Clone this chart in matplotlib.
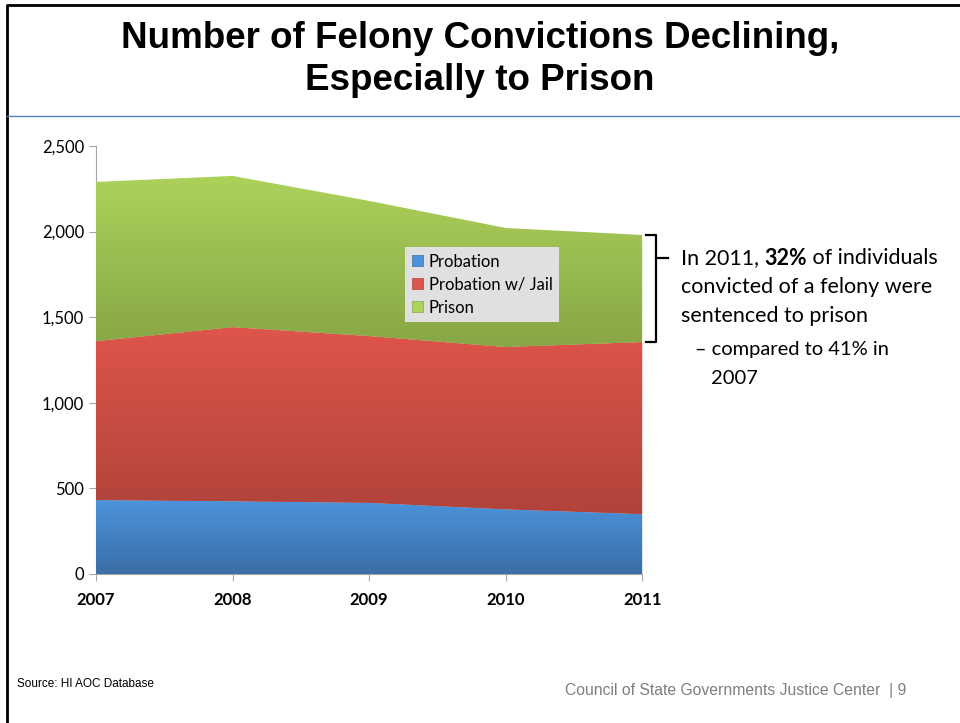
import matplotlib.pyplot as plt
import numpy as np
from matplotlib.colors import LinearSegmentedColormap
from matplotlib.patches import Patch
from matplotlib.lines import Line2D
import matplotlib.transforms as mtransforms

years = [2007, 2008, 2009, 2010, 2011]
probation = [432, 425, 416, 378, 350]
probation_jail = [928, 1017, 974, 948, 1005]
prison = [930, 883, 789, 695, 625]

series_names = ["Probation", "Probation w/ Jail", "Prison"]
# (top colour, bottom colour) for the vertical gradient of each band
band_colors = [("#4c93db", "#3a6ea6"), ("#de554b", "#b0433a"), ("#add25b", "#88a646")]

body_font = ["Lato", "DejaVu Sans"]

fig = plt.figure(figsize=(9.6, 7.23), dpi=100)
ax = fig.add_axes([0.1, 0.2061, 0.569, 0.592])

x = np.array(years)
layers = [np.array(probation), np.array(probation_jail), np.array(prison)]
bottom = np.zeros(len(years))
for vals, (c_top, c_bot) in zip(layers, band_colors):
    top = bottom + vals
    poly = ax.fill_between(x, bottom, top, facecolor=c_top, edgecolor="white", linewidth=0.6, zorder=2)
    cmap = LinearSegmentedColormap.from_list("band", [c_bot, c_top])
    grad = np.linspace(0, 1, 256).reshape(-1, 1)
    im = ax.imshow(grad, cmap=cmap, origin="lower", aspect="auto", interpolation="bilinear",
                   extent=[years[0], years[-1], bottom.min(), top.max()], zorder=3)
    im.set_clip_path(poly.get_paths()[0], ax.transData)
    bottom = top

ax.set_xlim(years[0], years[-1])
ax.set_ylim(0, 2500)
ax.set_xticks(years)
ax.set_xticklabels([str(y) for y in years], fontweight="bold", fontsize=12, family=body_font)
ax.set_yticks(range(0, 2501, 500))
ax.set_yticklabels([f"{v:,}" for v in range(0, 2501, 500)], fontsize=12, family=body_font)
for s in ["top", "right"]:
    ax.spines[s].set_visible(False)
for s in ["left", "bottom"]:
    ax.spines[s].set_color("#a6a6a6")
ax.tick_params(axis="both", colors="#a6a6a6", labelcolor="black", length=5, width=0.8)
ax.tick_params(axis="x", pad=8)

handles = [Patch(facecolor=c[0], edgecolor=c[1], linewidth=0.5) for c in band_colors]
leg = ax.legend(handles, series_names, loc="upper left", bbox_to_anchor=(0.566, 0.764),
                borderaxespad=0, frameon=True, fancybox=False,
                prop={"family": body_font, "size": 12},
                handlelength=0.65, handleheight=0.65, handletextpad=0.35,
                labelspacing=0.42, borderpad=0.4)
leg.get_frame().set_facecolor("#e0e0e0")
leg.get_frame().set_edgecolor("none")
leg.get_frame().set_alpha(1)
leg.set_zorder(10)

# bracket around the 2011 prison band
trans = mtransforms.blended_transform_factory(ax.transAxes, ax.transData)
y_lo = probation[-1] + probation_jail[-1]
y_hi = y_lo + prison[-1]
bx = 1.0 + (656 - 642) / 546
hook = 10 / 546
mid_y = y_hi - 135
ax.add_line(Line2D([bx - hook, bx, bx, bx - hook], [y_hi, y_hi, y_lo, y_lo],
                   transform=trans, color="black", lw=1.6, clip_on=False))
ax.add_line(Line2D([bx, bx + 12 / 546], [mid_y, mid_y], transform=trans,
                   color="black", lw=1.6, clip_on=False))

fs = 15.5
tx = 681 / 960
ty = 1 - 258 / 723
line_h = 29 / 723
t1 = fig.text(tx, ty, "In 2011, ", fontsize=fs, family=body_font, va="center")
fig.canvas.draw()
r = fig.canvas.get_renderer()
bb = t1.get_window_extent(r)
t2 = fig.text(bb.x1 / 960, ty, "32%", fontsize=fs, family=body_font, fontweight="bold", va="center")
bb2 = t2.get_window_extent(r)
fig.text(bb2.x1 / 960, ty, " of individuals", fontsize=fs, family=body_font, va="center")
fig.text(tx, ty - line_h, "convicted of a felony were", fontsize=fs, family=body_font, va="center")
fig.text(tx, ty - 2 * line_h, "sentenced to prison", fontsize=fs, family=body_font, va="center")
fig.text(695 / 960, ty - 3 * line_h - 0.006, "\u2013 compared to 41% in", fontsize=fs - 1, family=body_font, va="center")
fig.text(711 / 960, ty - 4 * line_h - 0.006, "2007", fontsize=fs - 1, family=body_font, va="center")

# title
fig.text(0.5, 1 - 38 / 723, "Number of Felony Convictions Declining,", fontsize=26.5,
         family="Liberation Sans", fontweight="bold", ha="center", va="center")
fig.text(0.5, 1 - 80 / 723, "Especially to Prison", fontsize=26.5,
         family="Liberation Sans", fontweight="bold", ha="center", va="center")

# slide frame: top and left edges, blue rule under the title
fig.add_artist(Line2D([7 / 960, 7 / 960, 1], [0, 1 - 5 / 723, 1 - 5 / 723],
                      transform=fig.transFigure, color="black", lw=2))
fig.add_artist(Line2D([7 / 960, 1], [1 - 116 / 723] * 2, transform=fig.transFigure,
                      color="#4f81bd", lw=1))

fig.text(17 / 960, 1 - 684 / 723, "Source: HI AOC Database", fontsize=8.5,
         family="Liberation Sans", va="center")
fig.text(906 / 960, 1 - 691 / 723, "Council of State Governments Justice Center  | 9",
         fontsize=11.3, family="Liberation Sans", color="#7f7f7f", ha="right", va="center")

fig.savefig("out.png", dpi=100)
